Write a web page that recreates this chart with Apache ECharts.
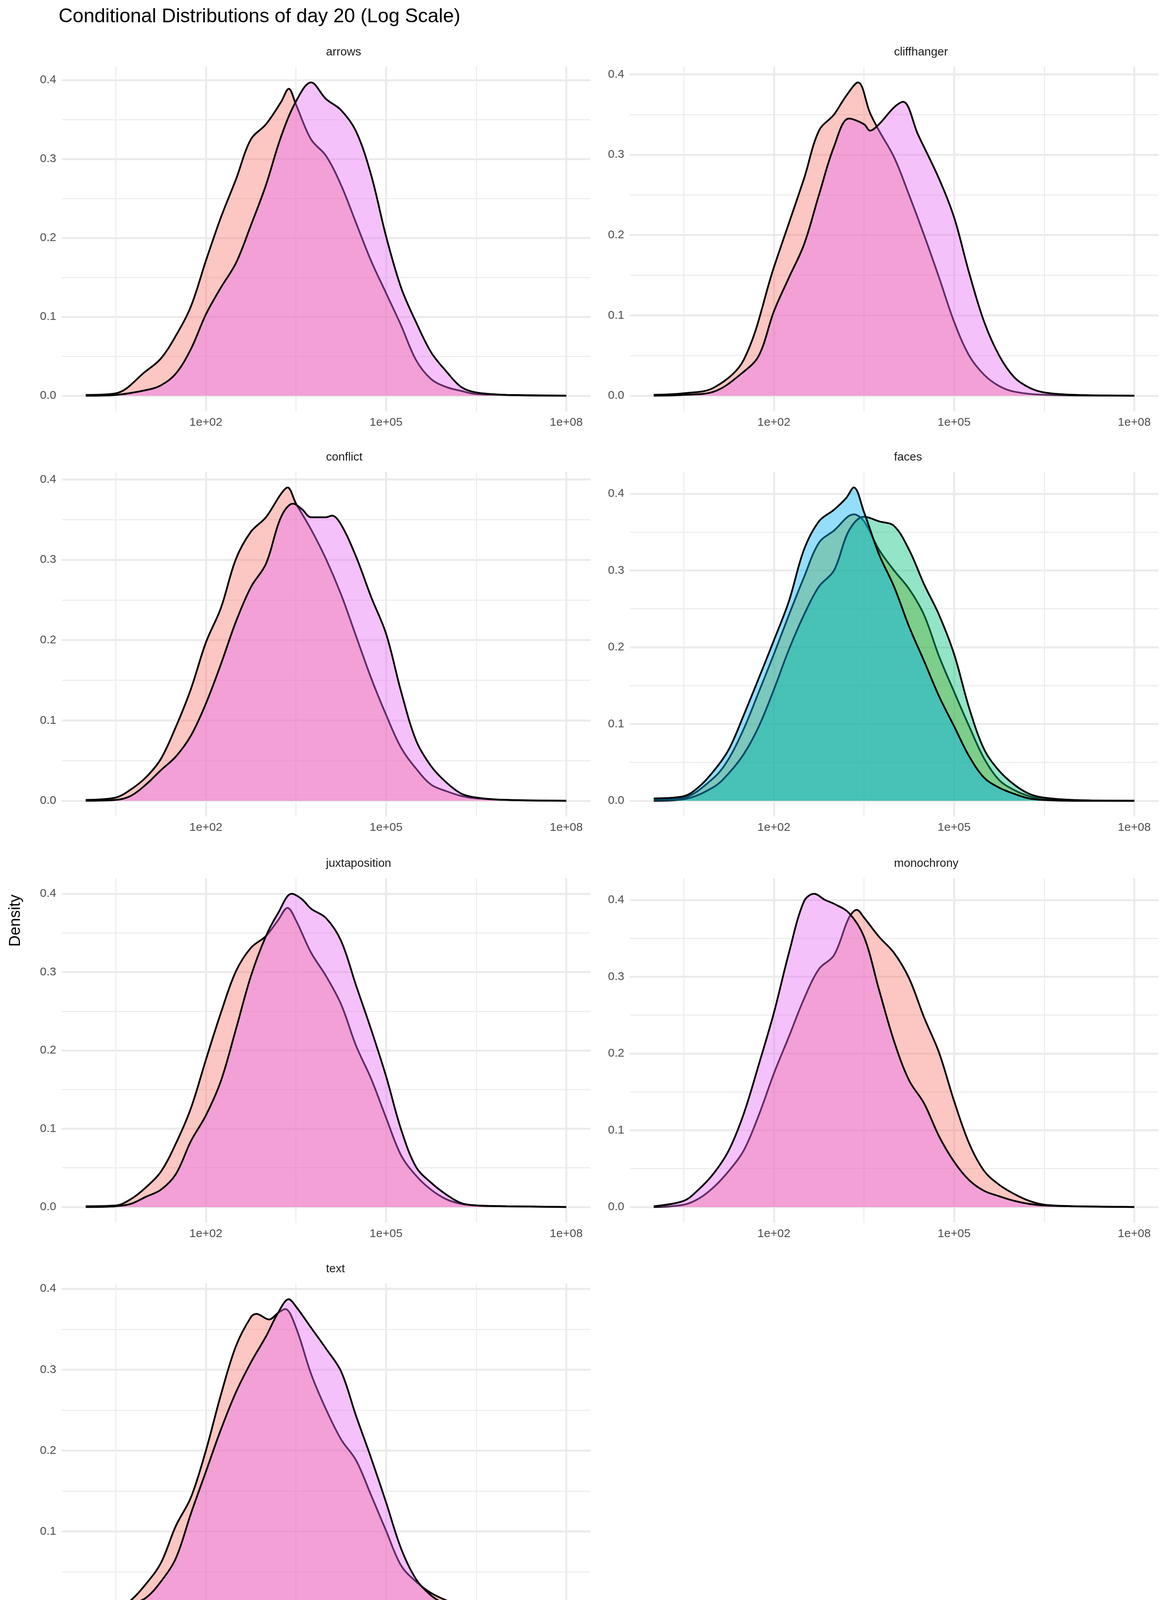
<!DOCTYPE html>
<html>
<head>
<meta charset="utf-8">
<script src="https://cdn.jsdelivr.net/npm/echarts@6/dist/echarts.min.js"></script>
<style>
  html, body { margin: 0; padding: 0; background: #fff; overflow: hidden; }
  #chart { width: 3000px; height: 4500px; }
</style>
</head>
<body>
<div id="chart"></div>
<script>
// facets, in plotting order
const panels = ['arrows', 'cliffhanger', 'conflict', 'faces', 'juxtaposition', 'monochrony', 'text'];
const levels = ['FALSE', 'neutral', 'non-neutral', 'none', 'TRUE'];
const levelColors = ['#F8766D', '#A3A500', '#00BF7D', '#00B0F6', '#E76BF3'];
const xMajor = [2, 5, 8];          // log10(day 20 + 1)
const xMinor = [0.5, 3.5, 6.5];

// density curves: [log10(day 20 + 1), density]
const arrowsFalse = [[0,0.001],[0.5,0.003],[1,0.031],[1.25,0.047],[1.5,0.076],[1.75,0.113],[2,0.171],[2.25,0.226],[2.5,0.274],[2.75,0.325],[3,0.344],[3.25,0.372],[3.38,0.389],[3.5,0.369],[3.75,0.325],[4,0.304],[4.25,0.267],[4.5,0.219],[4.75,0.171],[5,0.13],[5.25,0.089],[5.5,0.045],[5.75,0.021],[6,0.011],[6.25,0.006],[6.5,0.002],[7,0.001],[8,0]];
const arrowsTrue = [[0,0],[0.5,0.001],[1,0.007],[1.25,0.013],[1.5,0.028],[1.75,0.059],[2,0.103],[2.25,0.137],[2.5,0.168],[2.75,0.216],[3,0.267],[3.25,0.328],[3.5,0.373],[3.75,0.397],[4,0.376],[4.25,0.362],[4.5,0.335],[4.75,0.28],[5,0.202],[5.25,0.137],[5.5,0.093],[5.75,0.055],[6,0.031],[6.25,0.011],[6.5,0.004],[7,0.001],[8,0]];
const cliffFalse = [[0,0.001],[0.5,0.003],[1,0.01],[1.5,0.045],[2,0.16],[2.5,0.27],[2.75,0.33],[3,0.35],[3.2,0.373],[3.4,0.39],[3.6,0.352],[3.75,0.33],[4,0.297],[4.25,0.25],[4.5,0.2],[4.75,0.147],[5,0.092],[5.25,0.05],[5.5,0.026],[5.75,0.012],[6,0.005],[6.5,0.001],[8,0]];
const cliffTrue = [[0,0],[0.5,0.001],[1,0.005],[1.5,0.03],[1.75,0.05],[2,0.105],[2.25,0.147],[2.5,0.188],[2.75,0.25],[3,0.31],[3.25,0.345],[3.5,0.338],[3.6,0.33],[3.75,0.338],[4,0.359],[4.15,0.366],[4.4,0.325],[4.75,0.27],[5,0.222],[5.25,0.153],[5.5,0.092],[5.75,0.05],[6,0.023],[6.25,0.01],[6.5,0.004],[7,0.001],[8,0]];
const conflictFalse = [[0,0.001],[0.5,0.004],[0.75,0.014],[1,0.029],[1.25,0.052],[1.5,0.092],[1.75,0.139],[2,0.197],[2.25,0.24],[2.5,0.301],[2.75,0.335],[3,0.353],[3.25,0.382],[3.36,0.39],[3.5,0.37],[3.75,0.338],[4,0.301],[4.25,0.257],[4.5,0.205],[4.75,0.153],[5,0.107],[5.25,0.066],[5.5,0.04],[5.75,0.02],[6,0.012],[6.25,0.006],[6.5,0.003],[7,0.001],[8,0]];
const conflictTrue = [[0,0],[0.5,0.001],[0.75,0.006],[1,0.02],[1.25,0.038],[1.5,0.055],[1.75,0.081],[2,0.121],[2.25,0.17],[2.5,0.223],[2.75,0.266],[3,0.295],[3.25,0.353],[3.45,0.37],[3.6,0.363],[3.75,0.353],[4,0.353],[4.1,0.355],[4.25,0.344],[4.5,0.304],[4.75,0.254],[5,0.208],[5.25,0.136],[5.5,0.075],[5.75,0.043],[6,0.023],[6.25,0.009],[6.5,0.004],[7,0.001],[8,0]];
const facesNeutral = [[0,0.001],[0.5,0.004],[1,0.03],[1.25,0.055],[1.5,0.094],[1.75,0.142],[2,0.191],[2.25,0.242],[2.5,0.291],[2.75,0.336],[3,0.352],[3.33,0.373],[3.5,0.364],[3.75,0.327],[4,0.3],[4.25,0.276],[4.5,0.242],[4.75,0.188],[5,0.142],[5.25,0.097],[5.5,0.055],[5.75,0.027],[6,0.014],[6.25,0.006],[6.5,0.002],[7,0],[8,0]];
const facesNonNeutral = [[0,0],[0.5,0.002],[1,0.018],[1.25,0.036],[1.5,0.061],[1.75,0.097],[2,0.145],[2.25,0.197],[2.5,0.242],[2.75,0.279],[3,0.3],[3.25,0.352],[3.5,0.37],[3.75,0.364],[4,0.358],[4.25,0.327],[4.5,0.282],[4.75,0.242],[5,0.191],[5.25,0.121],[5.5,0.067],[5.75,0.039],[6,0.021],[6.25,0.009],[6.5,0.004],[7,0.001],[8,0]];
const facesNone = [[0,0.003],[0.5,0.006],[0.75,0.018],[1,0.039],[1.25,0.067],[1.5,0.112],[1.75,0.16],[2,0.209],[2.25,0.26],[2.5,0.327],[2.75,0.364],[3,0.379],[3.2,0.394],[3.33,0.408],[3.5,0.376],[3.75,0.321],[4,0.279],[4.25,0.227],[4.5,0.182],[4.75,0.136],[5,0.097],[5.25,0.058],[5.5,0.03],[5.75,0.017],[6,0.009],[6.25,0.003],[6.5,0.001],[7,0],[8,0]];
const juxtaFalse = [[0,0.001],[0.5,0.002],[0.75,0.01],[1,0.025],[1.25,0.045],[1.5,0.081],[1.75,0.126],[2,0.188],[2.25,0.248],[2.5,0.301],[2.75,0.331],[3,0.346],[3.2,0.366],[3.36,0.382],[3.5,0.366],[3.75,0.325],[4,0.295],[4.25,0.259],[4.5,0.206],[4.75,0.164],[5,0.114],[5.25,0.066],[5.5,0.04],[5.75,0.022],[6,0.01],[6.25,0.004],[6.5,0.002],[7,0.001],[8,0]];
const juxtaTrue = [[0,0],[0.5,0.001],[0.75,0.004],[1,0.013],[1.25,0.022],[1.5,0.042],[1.75,0.084],[2,0.117],[2.25,0.161],[2.5,0.227],[2.75,0.295],[3,0.346],[3.2,0.375],[3.43,0.4],[3.6,0.393],[3.75,0.381],[4,0.369],[4.25,0.34],[4.5,0.283],[4.75,0.227],[5,0.167],[5.25,0.099],[5.5,0.051],[5.75,0.031],[6,0.016],[6.25,0.005],[6.5,0.002],[7,0.001],[8,0]];
const monoFalse = [[0,0],[0.5,0.003],[0.75,0.011],[1,0.026],[1.25,0.047],[1.5,0.074],[1.75,0.12],[2,0.174],[2.25,0.222],[2.5,0.271],[2.75,0.31],[3,0.328],[3.25,0.377],[3.38,0.387],[3.5,0.377],[3.75,0.352],[4,0.331],[4.25,0.298],[4.5,0.247],[4.75,0.201],[5,0.138],[5.25,0.083],[5.5,0.047],[5.75,0.029],[6,0.017],[6.25,0.008],[6.5,0.003],[7,0.001],[8,0]];
const monoTrue = [[0,0.001],[0.5,0.008],[0.75,0.023],[1,0.044],[1.25,0.074],[1.5,0.122],[1.75,0.186],[2,0.253],[2.25,0.331],[2.5,0.398],[2.67,0.408],[2.85,0.4],[3,0.395],[3.25,0.383],[3.5,0.352],[3.75,0.283],[4,0.216],[4.25,0.165],[4.5,0.135],[4.75,0.092],[5,0.059],[5.25,0.035],[5.5,0.021],[5.75,0.014],[6,0.008],[6.25,0.004],[6.5,0.002],[7,0.001],[8,0]];
const textFalse = [[0,0.001],[0.5,0.004],[0.75,0.015],[1,0.035],[1.25,0.061],[1.5,0.107],[1.75,0.142],[2,0.2],[2.25,0.269],[2.5,0.329],[2.75,0.365],[2.84,0.369],[3.05,0.362],[3.2,0.37],[3.32,0.375],[3.5,0.352],[3.75,0.295],[4,0.251],[4.25,0.214],[4.5,0.188],[4.75,0.145],[5,0.101],[5.25,0.058],[5.5,0.038],[5.75,0.024],[6,0.015],[6.25,0.008],[6.5,0.004],[7,0.001],[8,0]];
const textTrue = [[0,0],[0.5,0.003],[0.75,0.01],[1,0.018],[1.25,0.038],[1.5,0.067],[1.75,0.122],[2,0.174],[2.25,0.226],[2.5,0.272],[2.75,0.309],[3,0.341],[3.2,0.37],[3.38,0.387],[3.5,0.378],[3.75,0.352],[4,0.326],[4.25,0.298],[4.5,0.243],[4.75,0.191],[5,0.136],[5.25,0.079],[5.5,0.041],[5.75,0.021],[6,0.01],[6.25,0.005],[6.5,0.002],[7,0.001],[8,0]];

const curves = {
  arrows: [['FALSE', arrowsFalse], ['TRUE', arrowsTrue]],
  cliffhanger: [['FALSE', cliffFalse], ['TRUE', cliffTrue]],
  conflict: [['FALSE', conflictFalse], ['TRUE', conflictTrue]],
  faces: [['neutral', facesNeutral], ['non-neutral', facesNonNeutral], ['none', facesNone]],
  juxtaposition: [['FALSE', juxtaFalse], ['TRUE', juxtaTrue]],
  monochrony: [['FALSE', monoFalse], ['TRUE', monoTrue]],
  text: [['FALSE', textFalse], ['TRUE', textTrue]]
};

const FONT = 'Liberation Sans';
const colLeft = [158, 1612], plotW = 1353;
const rowTop = [171, 1208, 2248, 3286], plotH = 882;

function alpha(hex, a) {
  const n = parseInt(hex.slice(1), 16);
  return 'rgba(' + (n >> 16) + ',' + ((n >> 8) & 255) + ',' + (n & 255) + ',' + a + ')';
}

const grid = [], xAxis = [], yAxis = [], series = [], graphic = [];

panels.forEach(function (name, i) {
  const left = colLeft[i % 2], top = rowTop[Math.floor(i / 2)];
  grid.push({ left: left, top: top, width: plotW, height: plotH });
  let peak = 0;
  curves[name].forEach(function (c) { c[1].forEach(function (p) { peak = Math.max(peak, p[1]); }); });
  const yMin = -0.05 * peak, yMax = 1.05 * peak;
  const yMaj = [], yMin2 = [];
  for (let v = 0; v <= yMax + 1e-9; v += 0.1) yMaj.push(+v.toFixed(2));
  for (let v = 0.05; v <= yMax; v += 0.1) yMin2.push(+v.toFixed(2));

  xAxis.push({
    type: 'value', gridIndex: i, min: -0.4, max: 8.4,
    axisLine: { show: false },
    axisTick: { show: false, customValues: xMajor },
    axisLabel: { customValues: xMajor, formatter: function (v) { return '1e+0' + v; },
      color: '#4d4d4d', fontSize: 30, fontFamily: FONT, margin: 14 },
    splitLine: { lineStyle: { color: '#ebebeb', width: 5 } }
  });
  xAxis.push({
    type: 'value', gridIndex: i, min: -0.4, max: 8.4,
    axisLine: { show: false },
    axisTick: { show: false, customValues: xMinor },
    axisLabel: { show: false, customValues: xMinor },
    splitLine: { lineStyle: { color: '#ebebeb', width: 2.5 } }
  });
  yAxis.push({
    type: 'value', gridIndex: i, min: yMin, max: yMax,
    axisLine: { show: false },
    axisTick: { show: false, customValues: yMaj },
    axisLabel: { customValues: yMaj, formatter: function (v) { return v.toFixed(1); },
      color: '#4d4d4d', fontSize: 30, fontFamily: FONT, margin: 14 },
    splitLine: { lineStyle: { color: '#ebebeb', width: 5 } }
  });
  yAxis.push({
    type: 'value', gridIndex: i, min: yMin, max: yMax,
    axisLine: { show: false },
    axisTick: { show: false, customValues: yMin2 },
    axisLabel: { show: false, customValues: yMin2 },
    splitLine: { lineStyle: { color: '#ebebeb', width: 2.5 } }
  });

  curves[name].forEach(function (c, k) {
    const col = levelColors[levels.indexOf(c[0])];
    series.push({
      name: c[0], type: 'line', xAxisIndex: 2 * i, yAxisIndex: 2 * i,
      data: c[1], smooth: 0.35, symbol: 'none', z: 2 + k,
      itemStyle: { color: alpha(col, 0.6), borderColor: '#000', borderWidth: 3 },
      lineStyle: { color: '#000', width: 4.5 },
      areaStyle: { color: alpha(col, 0.6), origin: 'auto' }
    });
  });

  graphic.push({
    type: 'text', left: left + plotW / 2, top: top - 52,
    style: { text: name, font: '30px ' + FONT, fill: '#1a1a1a', textAlign: 'center' }
  });
});

graphic.push({ type: 'text', left: 150, top: 18,
  style: { text: 'Conditional Distributions of day 20 (Log Scale)', font: '50px ' + FONT, fill: '#000' } });
graphic.push({ type: 'text', left: 1557, top: 4245,
  style: { text: 'Day 20 + 1 (Log Scale)', font: '40px ' + FONT, fill: '#000', textAlign: 'center' } });
graphic.push({ type: 'text', left: 20, top: 2290, rotation: Math.PI / 2,
  style: { text: 'Density', font: '40px ' + FONT, fill: '#000', textAlign: 'center' } });
graphic.push({ type: 'text', left: 843, top: 4380,
  style: { text: 'Group Level', font: '42px ' + FONT, fill: '#000' } });

const chart = echarts.init(document.getElementById('chart'));
chart.setOption({
  backgroundColor: '#fff',
  animation: false,
  grid: grid, xAxis: xAxis, yAxis: yAxis, series: series, graphic: graphic,
  legend: {
    data: levels, left: 1110, top: 4370, orient: 'horizontal',
    icon: 'rect', itemWidth: 60, itemHeight: 60, itemGap: 28,
    itemStyle: { borderColor: '#000', borderWidth: 3 },
    textStyle: { fontSize: 34, fontFamily: FONT, color: '#000', padding: [0, 0, 0, 4] }
  }
});
</script>
</body>
</html>
